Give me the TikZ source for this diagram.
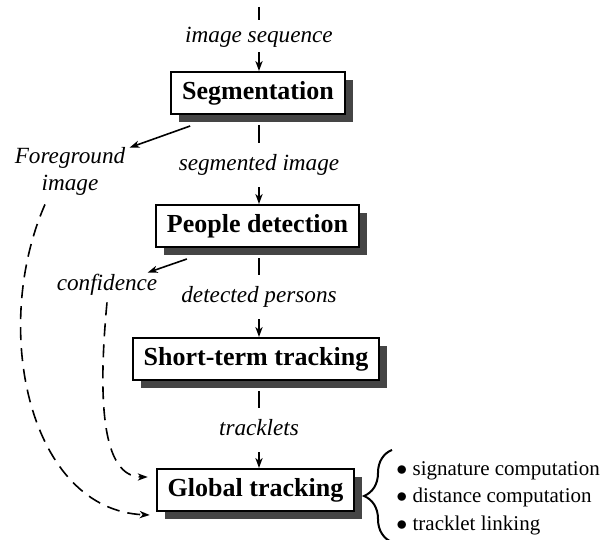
\documentclass[tikz,border=0pt]{standalone}
\usepackage{fontspec}
\setmainfont{Liberation Serif}
\usetikzlibrary{positioning,calc,shadows,arrows.meta,decorations.pathreplacing}

\begin{document}
\begin{tikzpicture}[x=0.5pt,y=-0.5pt,
    box/.style={draw, line width=1pt, fill=white,
      font=\fontsize{13}{15}\selectfont\bfseries,
      minimum height=21pt, inner xsep=5.5pt, inner ysep=0pt,
      drop shadow={shadow xshift=4pt, shadow yshift=-4pt, fill=black!73, opacity=1}},
    lbl/.style={font=\fontsize{11.6}{13.5}\selectfont\itshape,
      inner sep=0pt, text height=8pt, text depth=2.5pt},
    note/.style={font=\fontsize{11.6}{13.5}\selectfont\itshape,
      inner sep=0pt, align=center},
    flow/.style={line width=0.8pt},
    arr/.style={-{Stealth[length=5pt,width=3.6pt,inset=1.5pt]}},
    back/.style={flow, arr, dash pattern=on 6.5pt off 4pt},
    curly/.style={decorate, decoration={brace, amplitude=14pt}, line width=1pt}]
  \useasboundingbox (0,0) rectangle (611,540);

  % processing chain
  \coordinate (in) at (259,7);
  \node[lbl, anchor=base] (lblin) at (259,43) {image sequence};
  \node[box] (seg) at (258,93) {Segmentation};
  \node[lbl, anchor=base] (lblseg) at (259,170) {segmented image};
  \node[box] (ppl) at (257.5,226) {People detection};
  \node[lbl, anchor=base] (lblppl) at (259,302) {detected persons};
  \node[box] (short) at (256,359) {Short-term tracking};
  \node[lbl, anchor=base] (lblshort) at (259,435) {tracklets};
  \node[box] (glob) at (255.5,490) {Global tracking};

  \draw[flow, shorten >=3.5pt] (in) -- (lblin);
  \draw[flow, arr, shorten <=2pt] (lblin) -- (lblin |- seg.north);
  \draw[flow, shorten <=5pt, shorten >=5.5pt] (seg.south -| lblseg) -- (lblseg);
  \draw[flow, arr, shorten <=6pt] (lblseg) -- (lblseg |- ppl.north);
  \draw[flow, shorten <=5pt, shorten >=5.5pt] (ppl.south -| lblppl) -- (lblppl);
  \draw[flow, arr, shorten <=6pt] (lblppl) -- (lblppl |- short.north);
  \draw[flow, shorten <=5pt, shorten >=5.5pt] (short.south -| lblshort) -- (lblshort);
  \draw[flow, arr, shorten <=6pt] (lblshort) -- (lblshort |- glob.north);

  % side outputs fed back to global tracking
  \node[note] (fg) at (70,171) {Foreground\\image};
  \node[lbl, anchor=base] (conf) at (107,291) {confidence};

  \draw[flow, arr] ($(seg.south west)+(20,11)$) -- ($(fg.north east)+(4,1)$);
  \draw[flow, arr] ($(ppl.south west)+(32,11)$) -- ($(conf.north east)+(-10,-2)$);

  \draw[back] ($(fg.south)+(-25,9)$) .. controls (-10,330) and (30,510) .. ($(glob.south west)+(-6,3)$);
  \draw[back] ($(conf.south)+(0,6)$) .. controls (95,430) and (110,477) .. ($(glob.west)+(-8,-13)$);

  % steps of global tracking
  \node[inner sep=0pt, anchor=west, align=left, font=\fontsize{10.5}{13.75}\selectfont] (steps) at (396,498)
    {$\bullet$ signature computation\\
     $\bullet$ distance computation\\
     $\bullet$ tracklet linking};
  \draw[curly] ($(steps.south west)+(-4,7)$) -- ($(steps.north west)+(-4,-11)$);
\end{tikzpicture}
\end{document}
